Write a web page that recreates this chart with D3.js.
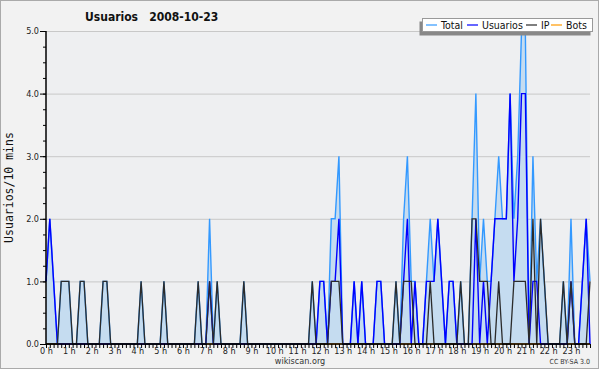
<!DOCTYPE html>
<html>
<head>
<meta charset="utf-8">
<script src="https://d3js.org/d3.v7.min.js"></script>
<style>
  body { margin: 0; background: #fff; }
  svg { display: block; }
  .tk text { font-family: "DejaVu Sans Condensed", "DejaVu Sans", sans-serif; font-size: 9px; fill: #222; }
</style>
</head>
<body>
<div id="chart"></div>
<script>
// users per 10 minutes, 2008-10-23 (12 values = 2 hours per row)
var usuarios = [
  1,2,1,0,0,0,0,0,0,0,0,0,
  0,0,0,0,0,0,0,0,0,0,0,0,
  0,0,0,0,0,0,0,0,0,0,0,0,
  0,0,0,0,0,0,0,1,0,0,0,0,
  0,0,0,0,0,0,0,0,0,0,0,0,
  0,0,0,0,0,0,0,0,0,0,0,0,
  1,1,0,1,1,2,0,0,0,1,0,1,
  0,0,0,1,1,0,0,0,0,0,1,2,
  0,1,0,0,1,1,1,2,1,0,1,1,
  0,0,0,0,0,2,0,1,0,1,2,2,
  2,2,4,1,2,4,4,0,1,1,0,0,
  0,0,0,0,0,0,1,0,0,1,2,0
];
var ip = [
  0,0,0,0,1,1,1,0,0,1,1,0,
  0,0,0,1,1,0,0,0,0,0,0,0,
  0,1,0,0,0,0,0,1,0,0,0,0,
  0,0,0,0,1,0,0,1,0,1,0,0,
  0,0,0,0,1,0,0,0,0,0,0,0,
  0,0,0,0,0,0,0,0,0,0,1,0,
  0,0,0,1,1,1,0,0,0,0,0,0,
  0,0,0,0,0,0,0,0,1,0,1,1,
  1,0,0,0,0,1,0,0,0,0,0,0,
  0,1,0,0,2,2,1,1,1,0,0,1,
  0,0,0,1,1,1,1,0,2,0,2,1,
  0,0,0,0,1,0,1,0,0,0,0,1
];
var bots = [
  0,0,0,0,0,0,0,0,0,0,0,0,
  0,0,0,0,0,0,0,0,0,0,0,0,
  0,0,0,0,0,0,0,0,0,0,0,0,
  0,0,0,0,0,0,0,0,0,0,0,0,
  0,0,0,0,0,0,0,0,0,0,0,0,
  0,0,0,0,0,0,0,0,0,0,0,0,
  0,0,0,0,0,0,0,0,0,0,0,0,
  0,0,0,0,0,0,0,0,0,0,0,0,
  0,0,0,0,0,0,0,0,0,0,0,0,
  0,0,0,0,0,0,0,0,0,0,0,0,
  0,0,0,0,0,0,0,0,0,0,0,0,
  0,0,0,0,0,0,0,0,0,0,0,0
];
var total = [
  1,2,1,0,1,1,1,0,0,1,1,0,
  0,0,0,1,1,0,0,0,0,0,0,0,
  0,1,0,0,0,0,0,1,0,0,0,0,
  0,0,0,0,1,0,0,2,0,1,0,0,
  0,0,0,0,1,0,0,0,0,0,0,0,
  0,0,0,0,0,0,0,0,0,0,1,0,
  1,1,0,2,2,3,0,0,0,1,0,1,
  0,0,0,1,1,0,0,0,1,0,2,3,
  1,1,0,0,1,2,1,2,1,0,1,1,
  0,1,0,0,2,4,1,2,1,1,2,3,
  2,2,4,2,3,5,5,0,3,1,2,1,
  0,0,0,0,1,0,2,0,0,1,2,1
];
var yTicks = [0, 1, 2, 3, 4, 5];
var hours = d3.range(0, 24);
var seriesNames = ["Total", "Usuarios", "IP", "Bots"];
var seriesColors = ["#3399ff", "#0000ff", "#2b2b2b", "#ff9900"];

function draw() {
  var width = 600, height = 370;
  var mLeft = 46, mRight = 590, mTop = 31, mBottom = 344;

  var svg = d3.select("#chart").append("svg")
      .attr("width", width)
      .attr("height", height);

  // background + frame
  svg.append("rect")
      .attr("x", 0.5).attr("y", 0.5)
      .attr("width", width - 2).attr("height", height - 2)
      .attr("fill", "#f2f2f2")
      .attr("stroke", "#aaa");

  svg.append("rect")
      .attr("x", mLeft).attr("y", mTop)
      .attr("width", mRight - mLeft).attr("height", mBottom - mTop)
      .attr("fill", "#eeeff1");

  var x = d3.scaleLinear().domain([0, usuarios.length - 1]).range([mLeft, mRight]);
  var y = d3.scaleLinear().domain([0, 5]).range([mBottom, mTop]);

  // grid
  svg.append("g")
    .selectAll("line")
    .data(yTicks.slice(1))
    .enter().append("line")
      .attr("x1", mLeft).attr("x2", mRight)
      .attr("y1", function(d) { return y(d) + 0.5; })
      .attr("y2", function(d) { return y(d) + 0.5; })
      .attr("stroke", "#c8c8c8");

  // area under total
  var area = d3.area()
      .x(function(d, i) { return x(i); })
      .y0(y(0))
      .y1(function(d) { return y(d); });

  svg.append("path")
      .datum(total)
      .attr("d", area)
      .attr("fill", "#c5dcf0");

  var line = d3.line()
      .x(function(d, i) { return x(i); })
      .y(function(d) { return y(d); });

  // bots first, ip last (on top)
  [[bots, 3], [total, 0], [usuarios, 1], [ip, 2]].forEach(function(p) {
    svg.append("path")
        .datum(p[0])
        .attr("d", line)
        .attr("fill", "none")
        .attr("stroke", seriesColors[p[1]])
        .attr("stroke-width", p[1] == 2 ? 1.3 : 1.4);
  });

  // y axis
  var yAxis = svg.append("g")
      .attr("class", "tk")
      .attr("transform", "translate(" + mLeft + ",0)")
      .call(d3.axisLeft(y).tickValues(yTicks).tickFormat(d3.format(".1f")).tickSize(6).tickPadding(1));
  yAxis.select(".domain").remove();

  svg.append("g")
      .attr("transform", "translate(" + mLeft + ",0)")
      .call(d3.axisLeft(y).tickValues(d3.range(0, 5.01, 0.25)).tickFormat("").tickSize(3))
      .select(".domain").remove();

  svg.append("line")
      .attr("x1", mLeft).attr("x2", mLeft)
      .attr("y1", mTop).attr("y2", mBottom + 1)
      .attr("stroke", "#000").attr("stroke-width", 1.5);

  // x axis
  svg.append("g")
      .attr("transform", "translate(0," + mBottom + ")")
      .call(d3.axisBottom(x).tickValues(d3.range(0, usuarios.length)).tickFormat("").tickSize(4))
      .select(".domain").remove();

  svg.append("g")
      .attr("class", "tk")
      .attr("transform", "translate(0," + mBottom + ")")
      .call(d3.axisBottom(x).tickValues(hours.map(function(h) { return h * 6; }))
        .tickFormat(function(d) { return (d / 6) + " h"; }).tickSize(0).tickPadding(4))
      .select(".domain").remove();

  svg.append("line")
      .attr("x1", mLeft).attr("x2", mRight)
      .attr("y1", mBottom).attr("y2", mBottom)
      .attr("stroke", "#000").attr("stroke-width", 1.5);

  // titles
  svg.append("text")
      .attr("x", 85).attr("y", 21)
      .style("font-family", "DejaVu Sans Condensed, DejaVu Sans, sans-serif")
      .style("font-weight", "bold")
      .style("font-size", "12px")
      .attr("fill", "#111")
      .attr("xml:space", "preserve")
      .text("Usuarios   2008-10-23");

  svg.append("text")
      .attr("transform", "translate(13," + ((mTop + mBottom) / 2) + ") rotate(-90)")
      .attr("text-anchor", "middle")
      .style("font-family", "DejaVu Sans Mono, monospace")
      .style("font-size", "11.5px")
      .attr("fill", "#111")
      .text("Usuarios/10 mins");

  svg.append("text")
      .attr("x", 300).attr("y", 364)
      .attr("text-anchor", "middle")
      .style("font-family", "DejaVu Sans Condensed, DejaVu Sans, sans-serif")
      .style("font-size", "9px")
      .attr("fill", "#333")
      .text("wikiscan.org");

  svg.append("text")
      .attr("x", 590).attr("y", 364)
      .attr("text-anchor", "end")
      .style("font-family", "DejaVu Sans Condensed, DejaVu Sans, sans-serif")
      .style("font-size", "7px")
      .attr("fill", "#333")
      .text("CC BY-SA 3.0");

  // legend
  var lg = svg.append("g");
  lg.append("rect")
      .attr("x", 419.5).attr("y", 21.5)
      .attr("width", 171).attr("height", 14)
      .attr("fill", "#888");
  lg.append("rect")
      .attr("x", 422.5).attr("y", 18.5)
      .attr("width", 170).attr("height", 13)
      .attr("fill", "#fff")
      .attr("stroke", "#999");

  var legendX = [426, 467, 526, 551];
  seriesNames.forEach(function(n, i) {
    lg.append("line")
        .attr("x1", legendX[i]).attr("x2", legendX[i] + 11)
        .attr("y1", 25).attr("y2", 25)
        .attr("stroke", seriesColors[i]).attr("stroke-width", 1.2);
    lg.append("text")
        .attr("x", legendX[i] + 15).attr("y", 29)
        .style("font-family", "DejaVu Sans Condensed, DejaVu Sans, sans-serif")
        .style("font-size", "10.5px")
        .attr("fill", "#111")
        .text(n);
  });
}

draw();
</script>
</body>
</html>
